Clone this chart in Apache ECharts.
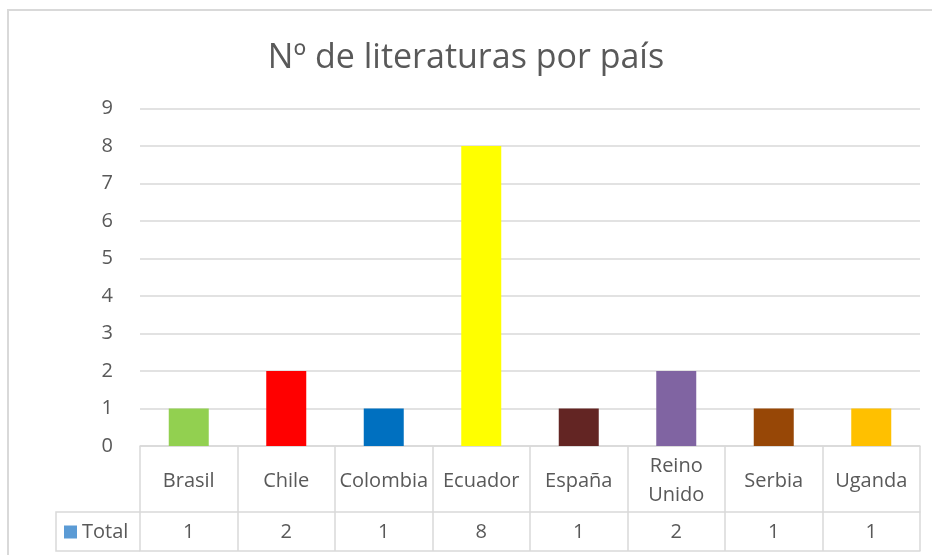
<!DOCTYPE html>
<html><head><meta charset="utf-8">
<script src="https://cdn.jsdelivr.net/npm/echarts@6/dist/echarts.min.js"></script>
<style>html,body{margin:0;padding:0;background:#fff}#c{width:932px;height:555px}</style>
</head><body><div id="c"></div>
<script>
const titleText = 'Nº de literaturas por país';
const categories = ['Brasil','Chile','Colombia','Ecuador','España','Reino Unido','Serbia','Uganda'];
const totals = [1,2,1,8,1,2,1,1];
const barColors = ['#92d050','#ff0000','#0070c0','#ffff00','#632523','#8064a2','#974706','#ffc000'];
const seriesName = 'Total';
const yTicks = [0,1,2,3,4,5,6,7,8,9];

const FONT = 'Open Sans';
const TXT = '#595959';
const LINE = '#d9d9d9';
const FS = 20;
const chart = echarts.init(document.getElementById('c'), null, {renderer:'canvas'});
chart.setOption({
  animation:false,
  backgroundColor:'#fff',
  title:{text:titleText,left:'center',top:36,textStyle:{fontFamily:FONT,fontSize:34,fontWeight:'normal',color:TXT}},
  legend:{data:[seriesName],left:64,top:522,itemWidth:13,itemHeight:13,itemGap:7,icon:'rect',
    textStyle:{fontFamily:FONT,fontSize:FS,color:TXT},padding:0},
  grid:{left:140,right:12,top:108.5,bottom:109,containLabel:false},
  xAxis:[
    {type:'category',data:categories,position:'bottom',
     axisLine:{show:true,lineStyle:{color:LINE,width:1.5}},
     axisTick:{show:true,length:105,alignWithLabel:false,lineStyle:{color:LINE,width:1.5}},
     axisLabel:{fontFamily:FONT,fontSize:FS,color:TXT,margin:35,verticalAlign:'middle',lineHeight:29,interval:0,
       formatter:v=>v.replace(' ','\n')}},
    {type:'category',data:categories,position:'bottom',offset:66,
     axisLine:{show:true,lineStyle:{color:LINE,width:1.5}},
     axisTick:{show:false},
     axisLabel:{fontFamily:FONT,fontSize:FS,color:TXT,margin:20,verticalAlign:'middle',interval:0,
       formatter:(v,i)=>String(totals[i])}},
    {type:'category',data:categories,position:'bottom',offset:105,
     axisLine:{show:true,lineStyle:{color:LINE,width:1.5}},
     axisTick:{show:false},axisLabel:{show:false}}
  ],
  yAxis:{type:'value',min:0,max:9,interval:1,
    axisLine:{show:false},axisTick:{show:false},
    splitLine:{lineStyle:{color:LINE,width:1.5}},
    axisLabel:{fontFamily:FONT,fontSize:FS,color:TXT,margin:27,align:'right'}},
  series:[{name:seriesName,type:'bar',xAxisIndex:0,barWidth:40,
    itemStyle:{color:'#5b9bd5'},
    data:totals.map((v,i)=>({value:v,itemStyle:{color:barColors[i]}}))}],
  graphic:[
    {type:'rect',shape:{x:8,y:10,width:960,height:600},style:{fill:'none',stroke:LINE,lineWidth:2},silent:true,z:-1},
    {type:'polyline',shape:{points:[[140,512],[56,512],[56,551],[140,551]]},style:{fill:'none',stroke:LINE,lineWidth:1.5},silent:true}
  ]
});
</script></body></html>
